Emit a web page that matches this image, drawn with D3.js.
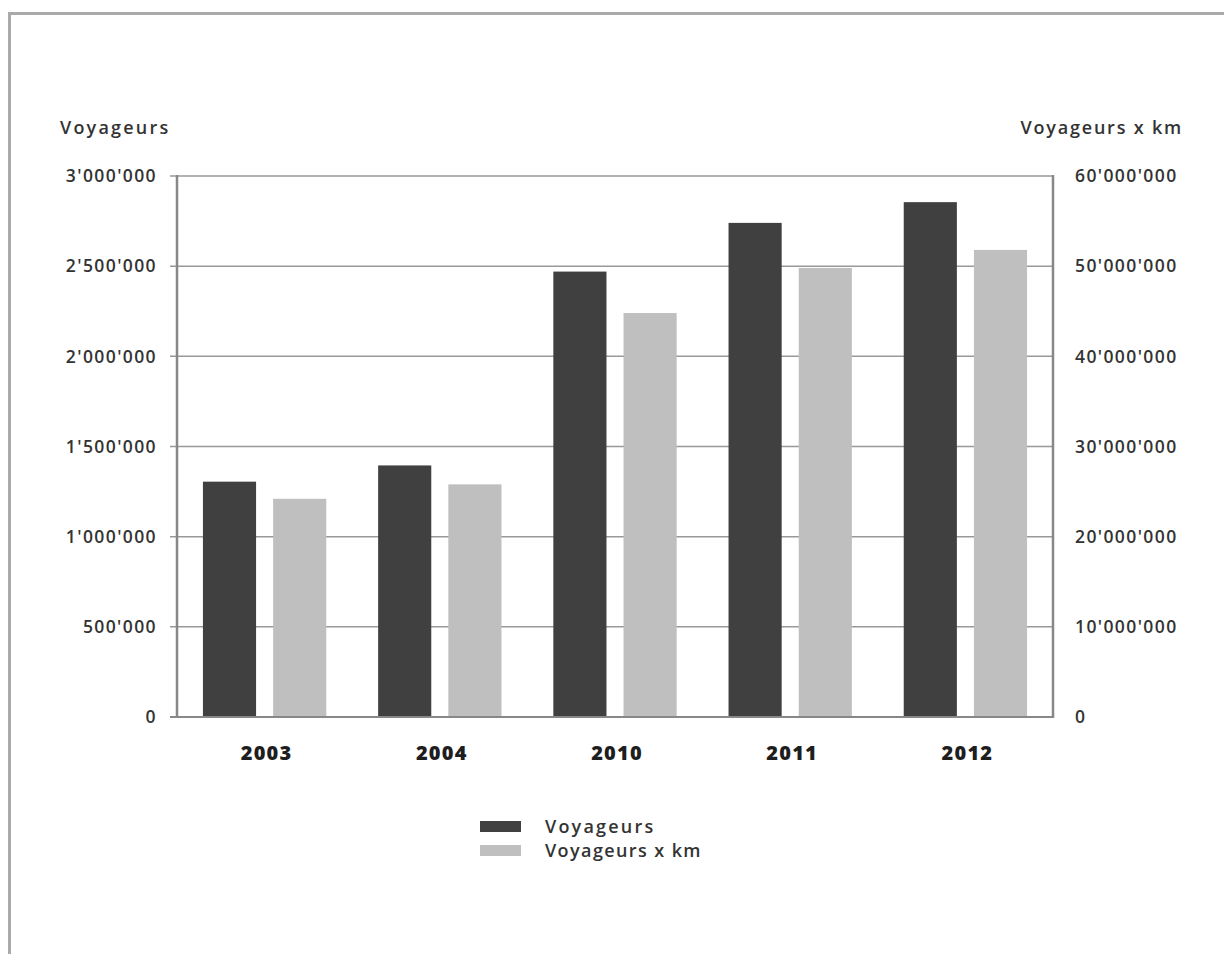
<!DOCTYPE html>
<html><head><meta charset="utf-8">
<script src="https://cdn.jsdelivr.net/npm/d3@7"></script>
<style>body{margin:0;background:#fff}svg{display:block}text{font-family:"Open Sans",sans-serif;fill:#333;font-weight:600}text.xl{font-weight:800;fill:#1e1e1e}</style>
</head><body><svg id="c" width="1224" height="954"></svg>
<script>
const years = ["2003","2004","2010","2011","2012"];
const voyageurs = [1305000, 1395000, 2470000, 2740000, 2855000];
const voyageursKm = [24200000, 25800000, 44800000, 49800000, 51800000];
const leftTicks = [0,500000,1000000,1500000,2000000,2500000,3000000];
const rightTicks = [0,10000000,20000000,30000000,40000000,50000000,60000000];
const seriesNames = ["Voyageurs","Voyageurs x km"];
const colors = ["#404040","#bfbfbf"];

const svg = d3.select("#c");
const m = {l:177, r:1053, t:176, b:717};
const fmt = v => d3.format(",")(v).replace(/,/g,"'");

// outer frame (top and left only)
svg.append("line").attr("x1",9).attr("x2",1224).attr("y1",13.5).attr("y2",13.5).attr("stroke","#aaa").attr("stroke-width",3);
svg.append("line").attr("x1",9.5).attr("x2",9.5).attr("y1",12).attr("y2",954).attr("stroke","#aaa").attr("stroke-width",3);

const yL = d3.scaleLinear().domain([0,3000000]).range([m.b,m.t]);
const yR = d3.scaleLinear().domain([0,60000000]).range([m.b,m.t]);

// gridlines
svg.append("g").selectAll("line").data(leftTicks.filter(d=>d>0)).join("line")
  .attr("x1",m.l-7).attr("x2",m.r).attr("y1",d=>yL(d)).attr("y2",d=>yL(d))
  .attr("stroke","#999").attr("stroke-width",1.5);

// bars
const gx = d3.scaleBand().domain(years).range([m.l,m.r]);
const inner = d3.scaleBand().domain([0,1]).range([gx.bandwidth()*0.148, gx.bandwidth()*0.852]).paddingInner(0.243);
const g = svg.append("g");
g.selectAll("rect.v").data(years).join("rect").attr("class","v")
  .attr("x",d=>gx(d)+inner(0)).attr("width",inner.bandwidth())
  .attr("y",(d,i)=>yL(voyageurs[i])).attr("height",(d,i)=>m.b-yL(voyageurs[i]))
  .attr("fill",colors[0]);
g.selectAll("rect.k").data(years).join("rect").attr("class","k")
  .attr("x",d=>gx(d)+inner(1)).attr("width",inner.bandwidth())
  .attr("y",(d,i)=>yR(voyageursKm[i])).attr("height",(d,i)=>m.b-yR(voyageursKm[i]))
  .attr("fill",colors[1]);

// axes lines
svg.append("line").attr("x1",m.l).attr("x2",m.l).attr("y1",m.t-1).attr("y2",m.b).attr("stroke","#888").attr("stroke-width",2.5);
svg.append("line").attr("x1",m.r).attr("x2",m.r).attr("y1",m.t-1).attr("y2",m.b+1).attr("stroke","#888").attr("stroke-width",2.5);
svg.append("line").attr("x1",m.l-7).attr("x2",m.r).attr("y1",m.b).attr("y2",m.b).attr("stroke","#888").attr("stroke-width",2);

// left tick labels
svg.append("g").selectAll("text").data(leftTicks).join("text")
  .attr("x",157).attr("y",d=>yL(d)).attr("dy","0.36em").attr("text-anchor","end")
  .attr("font-size",17.5).attr("letter-spacing","1.4px").text(fmt);
// right tick labels
svg.append("g").selectAll("text").data(rightTicks).join("text")
  .attr("x",1075).attr("y",d=>yR(d)).attr("dy","0.36em").attr("text-anchor","start")
  .attr("font-size",17.5).attr("letter-spacing","1.4px").text(fmt);

// axis titles
svg.append("text").attr("x",60).attr("y",134).attr("font-size",18).attr("letter-spacing","2.2px").text(seriesNames[0]);
svg.append("text").attr("x",1183).attr("y",134).attr("text-anchor","end").attr("font-size",18).attr("letter-spacing","1.8px").text(seriesNames[1]);

// x labels
svg.append("g").selectAll("text").data(years).join("text").attr("class","xl")
  .attr("x",d=>gx(d)+gx.bandwidth()/2+2).attr("y",760).attr("text-anchor","middle")
  .attr("font-size",20).attr("letter-spacing","1.2px").text(d=>d);

// legend
const lg = svg.append("g");
seriesNames.forEach((n,i)=>{
  lg.append("rect").attr("x",480).attr("y",821+i*24).attr("width",41).attr("height",11).attr("fill",colors[i]);
  lg.append("text").attr("x",545).attr("y",833+i*24).attr("font-size",18).attr("letter-spacing",i?"1.4px":"2.2px").text(n);
});
</script></body></html>
